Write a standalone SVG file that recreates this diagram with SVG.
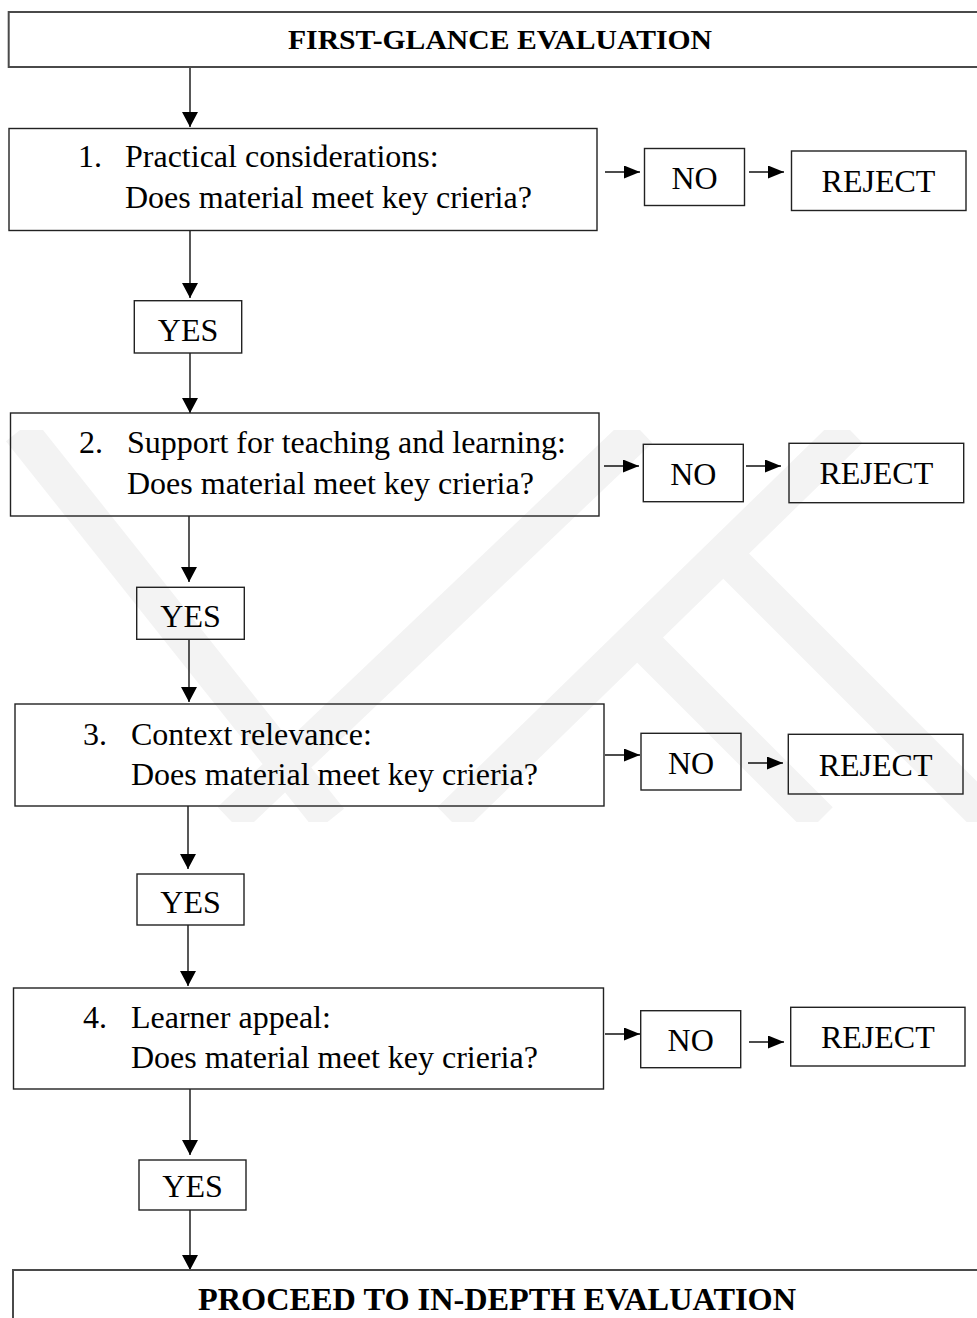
<svg xmlns="http://www.w3.org/2000/svg" width="977" height="1318" viewBox="0 0 977 1318">
<style>
  .bg { fill: #ffffff; }
  .wm { stroke: #f3f3f3; stroke-width: 36; fill: none; }
  .big { fill: none; stroke: #4a4a4a; stroke-width: 2; }
  .box { fill: none; stroke: #222222; stroke-width: 1.4; }
  .conn { stroke: #111111; stroke-width: 1.4; fill: none; }
  .t { font-family: "Liberation Serif", "Times New Roman", serif; font-size: 32px; fill: #000000; }
  .c { text-anchor: middle; }
  .b { font-weight: bold; }
</style>
<defs>
  <marker id="av" markerUnits="userSpaceOnUse" markerWidth="16" markerHeight="16" refX="15" refY="8" orient="auto">
    <path d="M0,0 L15,8 L0,16 Z" fill="#000000"/>
  </marker>
  <marker id="ah" markerUnits="userSpaceOnUse" markerWidth="17" markerHeight="14" refX="16" refY="6.5" orient="auto">
    <path d="M0,0 L16,6.5 L0,13 Z" fill="#000000"/>
  </marker>
  <clipPath id="wmclip"><rect x="0" y="430" width="977" height="392"/></clipPath>
</defs>
<rect class="bg" x="0" y="0" width="977" height="1318"/>
<g id="watermark" clip-path="url(#wmclip)">
  <line class="wm" x1="20" y1="430" x2="330" y2="820"/>
  <line class="wm" x1="230" y1="820" x2="640" y2="430"/>
  <line class="wm" x1="450" y1="820" x2="850" y2="430"/>
  <line class="wm" x1="640" y1="640" x2="820" y2="820"/>
  <line class="wm" x1="730" y1="560" x2="990" y2="820"/>
</g>
<g id="connectors">
  <line class="conn" x1="190" y1="67" x2="190" y2="127" marker-end="url(#av)"/>
  <line class="conn" x1="190" y1="231" x2="190" y2="298" marker-end="url(#av)"/>
  <line class="conn" x1="190" y1="353" x2="190" y2="413" marker-end="url(#av)"/>
  <line class="conn" x1="189" y1="516" x2="189" y2="582" marker-end="url(#av)"/>
  <line class="conn" x1="189" y1="639" x2="189" y2="702" marker-end="url(#av)"/>
  <line class="conn" x1="188" y1="806" x2="188" y2="869" marker-end="url(#av)"/>
  <line class="conn" x1="188" y1="925" x2="188" y2="986" marker-end="url(#av)"/>
  <line class="conn" x1="190" y1="1089" x2="190" y2="1155" marker-end="url(#av)"/>
  <line class="conn" x1="190" y1="1210" x2="190" y2="1270" marker-end="url(#av)"/>
  <line class="conn" x1="605" y1="172" x2="640" y2="172" marker-end="url(#ah)"/>
  <line class="conn" x1="749" y1="172" x2="784" y2="172" marker-end="url(#ah)"/>
  <line class="conn" x1="604" y1="466" x2="639" y2="466" marker-end="url(#ah)"/>
  <line class="conn" x1="746" y1="466" x2="781" y2="466" marker-end="url(#ah)"/>
  <line class="conn" x1="605" y1="755" x2="640" y2="755" marker-end="url(#ah)"/>
  <line class="conn" x1="748" y1="763" x2="783" y2="763" marker-end="url(#ah)"/>
  <line class="conn" x1="605" y1="1034" x2="640" y2="1034" marker-end="url(#ah)"/>
  <line class="conn" x1="749" y1="1042" x2="784" y2="1042" marker-end="url(#ah)"/>
</g>
<g id="first-glance">
  <rect class="big" x="8.7" y="12" width="980" height="55"/>
  <text class="t b c" x="500" y="49" style="font-size:27px" textLength="424" lengthAdjust="spacingAndGlyphs">FIRST-GLANCE EVALUATION</text>
</g>
<g id="step1">
  <rect class="box" x="9" y="128.5" width="588" height="102"/>
  <text class="t" x="78" y="167">1.</text>
  <text class="t" x="125" y="167">Practical considerations:</text>
  <text class="t" x="125" y="208">Does material meet key crieria?</text>
</g>
<g id="no1">
  <rect class="box" x="644.5" y="148.5" width="100" height="57"/>
  <text class="t c" x="694.5" y="189">NO</text>
</g>
<g id="reject1">
  <rect class="box" x="791.5" y="151" width="174.5" height="59.5"/>
  <text class="t c" x="878.5" y="191.5">REJECT</text>
</g>
<g id="yes1">
  <rect class="box" x="134.3" y="300.7" width="107.4" height="52.3"/>
  <text class="t c" x="188" y="341">YES</text>
</g>
<g id="step2">
  <rect class="box" x="10.5" y="413" width="588.5" height="103"/>
  <text class="t" x="79" y="453">2.</text>
  <text class="t" x="127" y="453">Support for teaching and learning:</text>
  <text class="t" x="127" y="494">Does material meet key crieria?</text>
</g>
<g id="no2">
  <rect class="box" x="643.3" y="444.3" width="100" height="57.4"/>
  <text class="t c" x="693.3" y="485">NO</text>
</g>
<g id="reject2">
  <rect class="box" x="789" y="443.3" width="174.7" height="59.4"/>
  <text class="t c" x="876.3" y="484">REJECT</text>
</g>
<g id="yes2">
  <rect class="box" x="136.7" y="587.3" width="107.6" height="52"/>
  <text class="t c" x="190.5" y="627">YES</text>
</g>
<g id="step3">
  <rect class="box" x="15" y="704" width="589" height="102"/>
  <text class="t" x="83" y="745">3.</text>
  <text class="t" x="131" y="745">Context relevance:</text>
  <text class="t" x="131" y="785">Does material meet key crieria?</text>
</g>
<g id="no3">
  <rect class="box" x="641" y="733.3" width="100" height="56.7"/>
  <text class="t c" x="691" y="773.5">NO</text>
</g>
<g id="reject3">
  <rect class="box" x="788.3" y="734.3" width="174.7" height="59.7"/>
  <text class="t c" x="875.6" y="775.5">REJECT</text>
</g>
<g id="yes3">
  <rect class="box" x="137" y="874" width="107" height="51"/>
  <text class="t c" x="190.5" y="913">YES</text>
</g>
<g id="step4">
  <rect class="box" x="13.5" y="988" width="590" height="101"/>
  <text class="t" x="83" y="1028">4.</text>
  <text class="t" x="131" y="1028">Learner appeal:</text>
  <text class="t" x="131" y="1068">Does material meet key crieria?</text>
</g>
<g id="no4">
  <rect class="box" x="640.7" y="1010.7" width="100" height="57"/>
  <text class="t c" x="690.7" y="1051">NO</text>
</g>
<g id="reject4">
  <rect class="box" x="790.7" y="1007.3" width="174.3" height="58.7"/>
  <text class="t c" x="877.8" y="1048">REJECT</text>
</g>
<g id="yes4">
  <rect class="box" x="139" y="1160" width="107" height="50"/>
  <text class="t c" x="192.5" y="1197">YES</text>
</g>
<g id="in-depth">
  <rect class="big" x="13" y="1270" width="980" height="60"/>
  <text class="t b c" x="497" y="1310" style="font-size:31.5px" textLength="598" lengthAdjust="spacingAndGlyphs">PROCEED TO IN-DEPTH EVALUATION</text>
</g>
</svg>
